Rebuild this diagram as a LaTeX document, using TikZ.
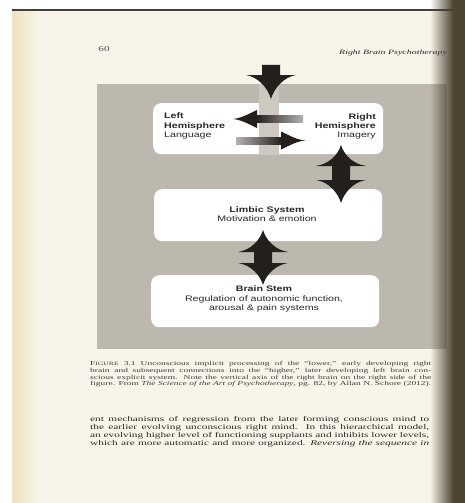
\documentclass[tikz,border=0pt]{standalone}
\usepackage{fontspec}
\usepackage{graphicx}
\setmainfont{Liberation Serif}
\newfontfamily\diagfont{Liberation Sans}
\newfontfamily\bookfont{Liberation Serif}
\usetikzlibrary{fadings}
\definecolor{pagec}{HTML}{F7F4EA}
\definecolor{edgec}{HTML}{F0E2BC}
\definecolor{boardc}{HTML}{BDB8AE}
\definecolor{bandc}{HTML}{CDC9C0}
\definecolor{arrowc}{HTML}{231F1C}
\definecolor{inkc}{HTML}{2B2724}
\definecolor{shadowc}{HTML}{4E4434}
\tikzfading[name=fadeshadow, left color=transparent!100, right color=transparent!0]
\newcommand\vdarrow[5]{%
 \fill[blockarrow] (#1,#2) .. controls ({#1+3},{#2+10}) and ({#1+12},{#3-2}) .. ({#1+25},#3)
   -- ({#1+9},#3) -- ({#1+9},#4) -- ({#1+25},#4)
   .. controls ({#1+12},{#4+2}) and ({#1+3},{#5-10}) .. (#1,#5)
   .. controls ({#1-3},{#5-10}) and ({#1-12},{#4+2}) .. ({#1-25},#4)
   -- ({#1-9},#4) -- ({#1-9},#3) -- ({#1-25},#3)
   .. controls ({#1-12},{#3-2}) and ({#1-3},{#2+10}) .. cycle;}
% wide text helpers
\newcommand\widetxt[1]{\scalebox{1.33}[1]{#1}}
\newcommand\capl[1]{\scalebox{1.55}[1]{\makebox[220pt][s]{#1}}}
\newcommand\bodl[1]{\scalebox{1.55}[1]{\makebox[218.7pt][s]{#1}}}
\tikzset{
 box/.style={fill=white, rounded corners=8pt, draw=none, inner sep=0pt, anchor=north west},
 dlabel/.style={font=\diagfont\fontsize{8}{9.3}\selectfont, text=inkc, inner sep=0pt},
 capline/.style={anchor=base west, inner sep=0pt, text=inkc!90, font=\bookfont\fontsize{6.1}{6.7}\selectfont},
 bodyline/.style={anchor=base west, inner sep=0pt, text=inkc, font=\bookfont\fontsize{7.3}{8}\selectfont},
 blockarrow/.style={fill=arrowc, draw=none},
}
\begin{document}
\begin{tikzpicture}[x=1pt,y=-1pt]
\useasboundingbox (0,0) rectangle (465,503);
\fill[white] (0,0) rectangle (465,503);
\fill[pagec] (12,11) rectangle (465,503);
\shade[left color=edgec, right color=pagec] (12,11) rectangle (40,503);
\draw[line width=2pt, color=black!75] (12,10) -- (465,10);

% page head
\node[inner sep=0pt, text=inkc!80, font=\bookfont\fontsize{7.5}{8}\selectfont] (pnum) at (104,49) {\scalebox{1.5}[1]{60}};
\node[anchor=base west, inner sep=0pt, text=inkc, font=\bookfont\fontsize{6.6}{8}\selectfont\itshape] (head) at (339,55) {\scalebox{1.5}[1]{Right Brain Psychotherapy}};

% figure board
\fill[boardc] (97,84) rectangle (447,349);
\node[box, minimum width=230pt, minimum height=51pt] (hemi) at (153,103) {};
\fill[bandc] (259,84) rectangle (279,155);
\node[box, minimum width=228pt, minimum height=52pt] (limbic) at (154,189) {};
\node[box, minimum width=228pt, minimum height=52pt] (stem) at (151,275) {};

% labels
\node[dlabel, align=left, anchor=west] (lefthemi) at (164,126) {\widetxt{\textbf{Left}}\\\widetxt{\textbf{Hemisphere}}\\\widetxt{Language}};
\node[dlabel, align=right, anchor=east] (righthemi) at (376,126.5) {\widetxt{\textbf{Right}}\\\widetxt{\textbf{Hemisphere}}\\\widetxt{Imagery}};
\node[dlabel, align=center] (limbiclabel) at (267,214) {\widetxt{\textbf{Limbic System}}\\\widetxt{Motivation \& emotion}};
\node[dlabel, align=center] (stemlabel) at (264,299) {\widetxt{\textbf{Brain Stem}}\\\widetxt{Regulation of autonomic function,}\\\widetxt{arousal \& pain systems}};

% top arrow
\fill[blockarrow] (262,65) -- (280,65) -- (280,75) -- (296,75)
  .. controls (284,77) and (274,88) .. (271,99)
  .. controls (268,88) and (258,77) .. (246,75) -- (262,75) -- cycle;

% horizontal arrows
\shade[left color=arrowc, right color=arrowc!35!white] (256,115.5) rectangle (303,122.5);
\fill[blockarrow] (233,119) .. controls (243,118) and (252,112) .. (257,110)
  -- (257,128) .. controls (252,126) and (243,120) .. cycle;
\shade[left color=arrowc!35!white, right color=arrowc] (236,137) rectangle (282,144);
\fill[blockarrow] (305,140.5) .. controls (295,139.5) and (286,133.5) .. (281,131.5)
  -- (281,149.5) .. controls (286,147.5) and (295,141.5) .. cycle;

% vertical double arrows
\vdarrow{341}{145}{166}{180}{203}
\vdarrow{263}{230}{252}{263}{285}

% caption
\node[capline] (cap1) at (90,365.5) {\capl{F{\fontsize{4.9}{5}\selectfont IGURE} 3.1 Unconscious implicit processing of the “lower,” early developing right}};
\node[capline] (cap2) at (90,372.3) {\capl{brain and subsequent connections into the “higher,” later developing left brain con-}};
\node[capline] (cap3) at (90,379.1) {\capl{scious explicit system. Note the vertical axis of the right brain on the right side of the}};
\node[capline] (cap4) at (90,385.9) {\capl{figure. From \textit{The Science of the Art of Psychotherapy}, pg. 82, by Allan N. Schore (2012).}};

% body
\node[bodyline] (body1) at (90,421) {\bodl{ent mechanisms of regression from the later forming conscious mind to}};
\node[bodyline] (body2) at (90,429) {\bodl{the earlier evolving unconscious right mind. In this hierarchical model,}};
\node[bodyline] (body3) at (90,437) {\bodl{an evolving higher level of functioning supplants and inhibits lower levels,}};
\node[bodyline] (body4) at (90,445) {\bodl{which are more automatic and more organized. \textit{Reversing the sequence in}}};

% binding shadow
\fill[shadowc, path fading=fadeshadow] (430,0) rectangle (453,503);
\fill[shadowc] (452.5,0) rectangle (465,503);
\end{tikzpicture}
\end{document}
